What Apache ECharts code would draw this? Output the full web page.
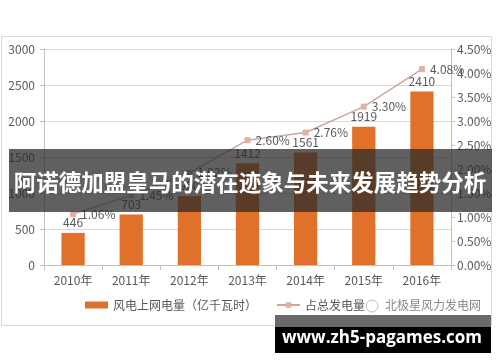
<!DOCTYPE html>
<html><head><meta charset="utf-8">
<script src="https://cdn.jsdelivr.net/npm/echarts@6/dist/echarts.min.js"></script>
<style>html,body{margin:0;padding:0;background:#fff}#c{width:500px;height:362px}</style>
</head><body><div id="c"></div>
<script>
const categories = ['2010年','2011年','2012年','2013年','2014年','2015年','2016年'];
const powerValues = [446, 703, 960, 1412, 1561, 1919, 2410];
const shareValues = [1.06, 1.45, 1.92, 2.60, 2.76, 3.30, 4.08];
const barName = '风电上网电量（亿千瓦时）';
const lineName = '占总发电量';
const bannerTitle = '阿诺德加盟皇马的潜在迹象与未来发展趋势分析';
const watermarkSite = 'www.zh5-pagames.com';
const watermarkSource = '北极星风力发电网';

const font = '"Noto Sans CJK SC","Noto Sans",sans-serif';
const txt = '#595959';
const chart = echarts.init(document.getElementById('c'), null, {renderer:'canvas'});
chart.setOption({
  animation:false,
  textStyle:{fontFamily:font},
  grid:{left:44,right:49,top:49,bottom:97},
  legend:{
    left:85, top:299, padding:0, itemGap:19,
    itemWidth:23, itemHeight:7,
    textStyle:{color:txt,fontSize:12,fontFamily:font},
    data:[{name:barName,icon:'rect'},{name:lineName}]
  },
  xAxis:{
    type:'category', data:categories, boundaryGap:true,
    axisLine:{lineStyle:{color:'#BFBFBF'}},
    axisTick:{show:true,alignWithLabel:false,length:5,lineStyle:{color:'#BFBFBF'}},
    axisLabel:{color:txt,fontSize:12,margin:9,fontFamily:font}
  },
  yAxis:[{
    type:'value', min:0, max:3000, interval:500,
    axisLine:{show:true,lineStyle:{color:'#BFBFBF'}},
    axisTick:{show:true,length:4,lineStyle:{color:'#BFBFBF'}},
    axisLabel:{color:txt,fontSize:12,margin:9,fontFamily:font,formatter:v=>String(v)},
    splitLine:{lineStyle:{color:'#D9D9D9'}}
  },{
    type:'value', min:0, max:4.5, interval:0.5, position:'right',
    axisLine:{show:true,lineStyle:{color:'#BFBFBF'}},
    axisTick:{show:true,length:4,lineStyle:{color:'#BFBFBF'}},
    axisLabel:{color:txt,fontSize:12,margin:6,fontFamily:font,formatter:v=>v.toFixed(2)+'%'},
    splitLine:{show:false}
  }],
  series:[{
    name:barName, type:'bar', data:powerValues, barWidth:'40%', yAxisIndex:0,
    itemStyle:{color:'#E0712A'},
    label:{show:true,position:'top',distance:4,color:txt,fontSize:12,fontFamily:font}
  },{
    name:lineName, type:'line', data:shareValues, yAxisIndex:1,
    symbol:'rect', symbolSize:6, smooth:false,
    lineStyle:{color:'#C9A99C',width:1.5},
    itemStyle:{color:'#E3AFA3'},
    label:{show:true,position:'right',distance:5,color:txt,fontSize:12,fontFamily:font,formatter:p=>p.value.toFixed(2)+'%'},
    z:3
  }],
  graphic:[
    {type:'rect',shape:{x:1.5,y:36.5,width:490,height:289},style:{fill:'none',stroke:'#D9D9D9',lineWidth:1},z:0,silent:true},
    {type:'circle',shape:{cx:372,cy:306,r:6},style:{fill:'#fff',stroke:'#bbb',lineWidth:1},z:50},
    {type:'text',left:385,top:299,style:{text:watermarkSource,fill:'#8a8a8a',fontSize:12,fontFamily:font},z:50},
    {type:'rect',shape:{x:9,y:149,width:483,height:63},style:{fill:'rgba(40,40,40,0.74)'},z:100},
    {type:'text',x:250,y:182,style:{text:bannerTitle,fill:'#fff',fontSize:22.5,fontWeight:'bold',fontFamily:font,align:'center',verticalAlign:'middle'},z:101},
    {type:'rect',shape:{x:275,y:315,width:216,height:38},style:{fill:'#000'},z:100},
    {type:'rect',shape:{x:275,y:315,width:216,height:12},style:{fill:'#6a6a6a'},z:101},
    {type:'text',x:382,y:338,style:{text:watermarkSite,fill:'#fff',fontSize:17,fontWeight:'bold',fontFamily:'"Open Sans","DejaVu Sans",sans-serif',align:'center',verticalAlign:'middle'},z:102}
  ]
});
</script></body></html>
